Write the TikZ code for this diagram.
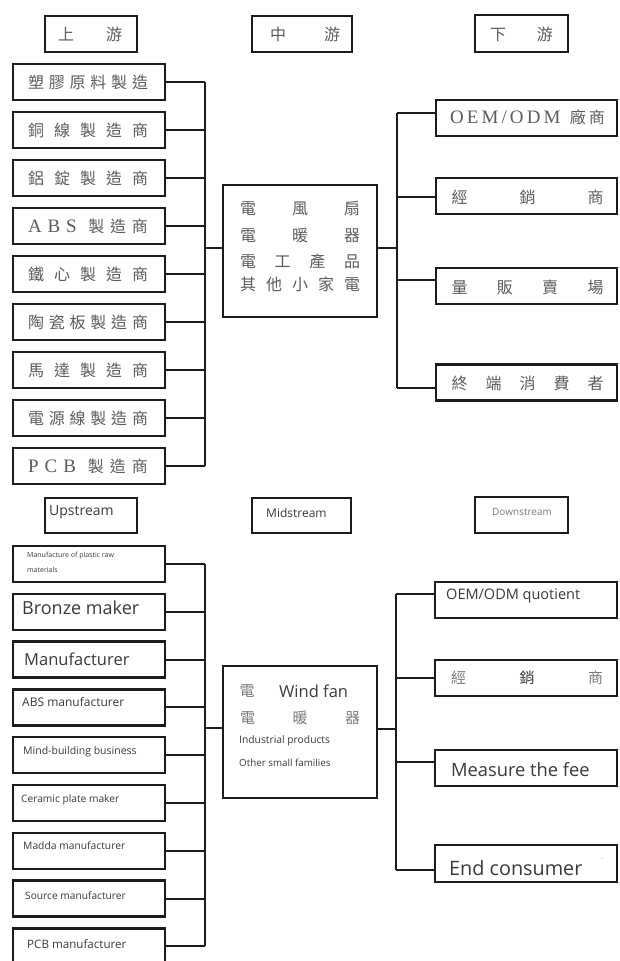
\documentclass[tikz,border=0pt]{standalone}
\usepackage{fontspec}
\setmainfont{Liberation Serif}
\newfontfamily\cjk{Noto Sans CJK TC}
\newfontfamily\osans{Open Sans}
\definecolor{lineC}{HTML}{1C1C1C}
\definecolor{tgrey}{HTML}{5C5C5C}
\definecolor{bgrey}{HTML}{3A3A3A}
\definecolor{lgrey}{HTML}{7A7A7A}
\newcommand{\fsz}[1]{\fontsize{#1}{#1}\selectfont}
\newcommand{\spr}[2]{\makebox[#1][s]{#2}}
\tikzset{
  bx/.style={draw=lineC, line width=2.3pt, inner sep=0pt, rectangle},
  cn/.style={draw=lineC, line width=2pt},
  tt/.style={inner sep=0pt, text=tgrey, font=\cjk\fsz{16}},
  bt/.style={inner sep=0pt, text=bgrey, font=\osans, anchor=west},
}
\begin{document}
\begin{tikzpicture}[x=1pt,y=-1pt]
\useasboundingbox (0,0) rectangle (619,961);
\clip (0,0) rectangle (619,961);
\fill[white] (0,0) rectangle (619,961);

% ================= TOP HALF =================
\node[bx, minimum width=92pt, minimum height=36pt] (HU) at (91,34) {};
\node[bx, minimum width=100pt, minimum height=36pt] (HM) at (302,34) {};
\node[bx, minimum width=93pt, minimum height=37pt] (HD) at (521.5,33.5) {};
\node[tt] (hut) at (90,34) {\spr{64pt}{上\hfill 游}};
\node[tt] (hmt) at (305,34) {\spr{70pt}{中\hfill 游}};
\node[tt] (hdt) at (521.5,34) {\spr{63pt}{下\hfill 游}};

\foreach \i/\y in {1/82,2/130,3/178,4/226,5/274,6/322,7/370,8/418,9/466}{
  \node[bx, minimum width=152pt, minimum height=36pt] (L\i) at (89,\y) {};
}
\node[tt] (l1t) at (88,82) {\spr{120pt}{塑\hfill 膠\hfill 原\hfill 料\hfill 製\hfill 造}};
\node[tt] (l2t) at (88,130) {\spr{120pt}{銅\hfill 線\hfill 製\hfill 造\hfill 商}};
\node[tt] (l3t) at (88,178) {\spr{120pt}{鋁\hfill 錠\hfill 製\hfill 造\hfill 商}};
\node[tt] (l4t) at (88,226) {\spr{120pt}{{\rmfamily\fsz{19}A}\hfill {\rmfamily\fsz{19}B}\hfill {\rmfamily\fsz{19}S}\hfill\hfill 製\hfill 造\hfill 商}};
\node[tt] (l5t) at (88,274) {\spr{120pt}{鐵\hfill 心\hfill 製\hfill 造\hfill 商}};
\node[tt] (l6t) at (88,322) {\spr{120pt}{陶\hfill 瓷\hfill 板\hfill 製\hfill 造\hfill 商}};
\node[tt] (l7t) at (88,370) {\spr{120pt}{馬\hfill 達\hfill 製\hfill 造\hfill 商}};
\node[tt] (l8t) at (88,418) {\spr{120pt}{電\hfill 源\hfill 線\hfill 製\hfill 造\hfill 商}};
\node[tt] (l9t) at (88,466) {\spr{120pt}{{\rmfamily\fsz{19}P}\hfill {\rmfamily\fsz{19}C}\hfill {\rmfamily\fsz{19}B}\hfill\hfill 製\hfill 造\hfill 商}};

\node[bx, minimum width=154pt, minimum height=132pt] (M1) at (300,251) {};
\node[tt] (m1a) at (300,209) {\spr{120pt}{電\hfill 風\hfill 扇}};
\node[tt] (m1b) at (300,235) {\spr{120pt}{電\hfill 暖\hfill 器}};
\node[tt] (m1c) at (300,261) {\spr{120pt}{電\hfill 工\hfill 產\hfill 品}};
\node[tt] (m1d) at (300,284) {\spr{120pt}{其\hfill 他\hfill 小\hfill 家\hfill 電}};

\foreach \i/\y in {1/118,2/196,3/286,4/382.5}{
  \node[bx, minimum width=181pt, minimum height=36pt] (R\i) at (526.5,\y) {};
}
\node[tt] (r1t) at (527.5,117) {\spr{155pt}{{\rmfamily\fsz{19}O}\hfill{\rmfamily\fsz{19}E}\hfill{\rmfamily\fsz{19}M}\hfill{\rmfamily\fsz{19}/}\hfill{\rmfamily\fsz{19}O}\hfill{\rmfamily\fsz{19}D}\hfill{\rmfamily\fsz{19}M}\hfill\hfill\hfill 廠\hfill 商}};
\node[tt] (r2t) at (527.5,197) {\spr{152pt}{經\hfill 銷\hfill 商}};
\node[tt] (r3t) at (527.5,287) {\spr{152pt}{量\hfill 販\hfill 賣\hfill 場}};
\node[tt] (r4t) at (527.5,383) {\spr{152pt}{終\hfill 端\hfill 消\hfill 費\hfill 者}};

% connectors top
\coordinate (busL) at (205,0);
\coordinate (busR) at (397,0);
\foreach \i in {1,...,9}{ \draw[cn] (L\i.east) -- (L\i.east -| busL); }
\draw[cn] (busL |- L1.east) -- (busL |- L9.east);
\draw[cn] ([yshift=3pt]M1.west -| busL) -- ([yshift=3pt]M1.west);
\draw[cn] ([yshift=3pt]M1.east) -- ([yshift=3pt]M1.east -| busR);
\draw[cn] ([yshift=5pt]R1.west -| busR) -- ([yshift=-5.5pt]R4.west -| busR);
\draw[cn] ([yshift=5pt]R1.west -| busR) -- ([yshift=5pt]R1.west);
\draw[cn] ([yshift=-1pt]R2.west -| busR) -- ([yshift=-1pt]R2.west);
\draw[cn] ([yshift=6pt]R3.west -| busR) -- ([yshift=6pt]R3.west);
\draw[cn] ([yshift=-5.5pt]R4.west -| busR) -- ([yshift=-5.5pt]R4.west);

% ================= BOTTOM HALF =================
\node[bx, minimum width=92pt, minimum height=35pt] (BU) at (91,515.5) {};
\node[bx, minimum width=99pt, minimum height=35pt] (BM) at (301.5,515.5) {};
\node[bx, minimum width=93pt, minimum height=36pt] (BD) at (521.5,515) {};
\node[bt, font=\osans\fsz{14}] (but) at (49,512) {Upstream};
\node[bt, font=\osans\fsz{12}] (bmt) at (266,513) {Midstream};
\node[bt, font=\osans\fsz{10}, text=lgrey] (bdt) at (492,512) {Downstream};

\foreach \i/\y in {1/564,2/611.8,3/659.6,4/707.4,5/755.2,6/803,7/850.8,8/898.6,9/946.4}{
  \node[bx, minimum width=152pt, minimum height=36pt] (B\i) at (89,\y) {};
}
\node[bt, font=\osans\fsz{7}] (b1t) at (27,556) {Manufacture of plastic raw};
\node[bt, font=\osans\fsz{7}] (b1u) at (27,570) {materials};
\node[bt, font=\osans\fsz{18}] (b2t) at (22,608) {Bronze maker};
\node[bt, font=\osans\fsz{16.5}] (b3t) at (24,659) {Manufacturer};
\node[bt, font=\osans\fsz{12}] (b4t) at (22,702) {ABS manufacturer};
\node[bt, font=\osans\fsz{10.5}] (b5t) at (23,752) {Mind-building business};
\node[bt, font=\osans\fsz{10.2}] (b6t) at (21,800) {Ceramic plate maker};
\node[bt, font=\osans\fsz{10.3}] (b7t) at (23,846) {Madda manufacturer};
\node[bt, font=\osans\fsz{10.2}] (b8t) at (25,896) {Source manufacturer};
\node[bt, font=\osans\fsz{11.6}] (b9t) at (27,944) {PCB manufacturer};

\node[bx, minimum width=154pt, minimum height=132pt] (M2) at (300,732) {};
\node[tt, text=lgrey, font=\cjk\fsz{15}] (m2a) at (247,691) {電};
\node[bt, font=\osans\fsz{16.5}] (m2b) at (279,691) {Wind fan};
\node[tt, text=lgrey, font=\cjk\fsz{15}] (m2c) at (300,718) {\spr{120pt}{電\hfill 暖\hfill 器}};
\node[bt, font=\osans\fsz{10.3}] (m2d) at (239,741) {Industrial products};
\node[bt, font=\osans\fsz{9.8}] (m2e) at (239,763) {Other small families};

\node[bx, minimum width=182pt, minimum height=36pt] (S1) at (526,600) {};
\node[bx, minimum width=182pt, minimum height=36pt] (S2) at (526,678) {};
\node[bx, minimum width=182pt, minimum height=36pt] (S3) at (526,768) {};
\node[bx, minimum width=182pt, minimum height=37pt] (S4) at (526,863.5) {};
\node[bt, font=\osans\fsz{14.5}] (s1t) at (446,596) {OEM/ODM quotient};
\node[tt, text=lgrey, font=\cjk\fsz{15}] (s2t) at (527,678) {\spr{152pt}{經\hfill {\color{bgrey}銷}\hfill 商}};
\node[bt, font=\osans\fsz{18.3}] (s3t) at (451,770) {Measure the fee};
\node[bt, font=\osans\fsz{19.8}] (s4t) at (449,868) {End consumer};
\node[bt, font=\osans\fsz{6}, text=lgrey] (s4m) at (601,860) {-};

% connectors bottom
\coordinate (bbL) at (205,0);
\coordinate (bbR) at (396,0);
\foreach \i in {1,...,9}{ \draw[cn] (B\i.east) -- (B\i.east -| bbL); }
\draw[cn] (bbL |- B1.east) -- (bbL |- B9.east);
\draw[cn] ([yshift=4pt]M2.west -| bbL) -- ([yshift=4pt]M2.west);
\draw[cn] ([yshift=3pt]M2.east) -- ([yshift=3pt]M2.east -| bbR);
\draw[cn] ([yshift=6pt]S1.west -| bbR) -- ([yshift=-6.5pt]S4.west -| bbR);
\draw[cn] ([yshift=6pt]S1.west -| bbR) -- ([yshift=6pt]S1.west);
\draw[cn] (S2.west -| bbR) -- (S2.west);
\draw[cn] ([yshift=6pt]S3.west -| bbR) -- ([yshift=6pt]S3.west);
\draw[cn] ([yshift=-6.5pt]S4.west -| bbR) -- ([yshift=-6.5pt]S4.west);
\end{tikzpicture}
\end{document}
